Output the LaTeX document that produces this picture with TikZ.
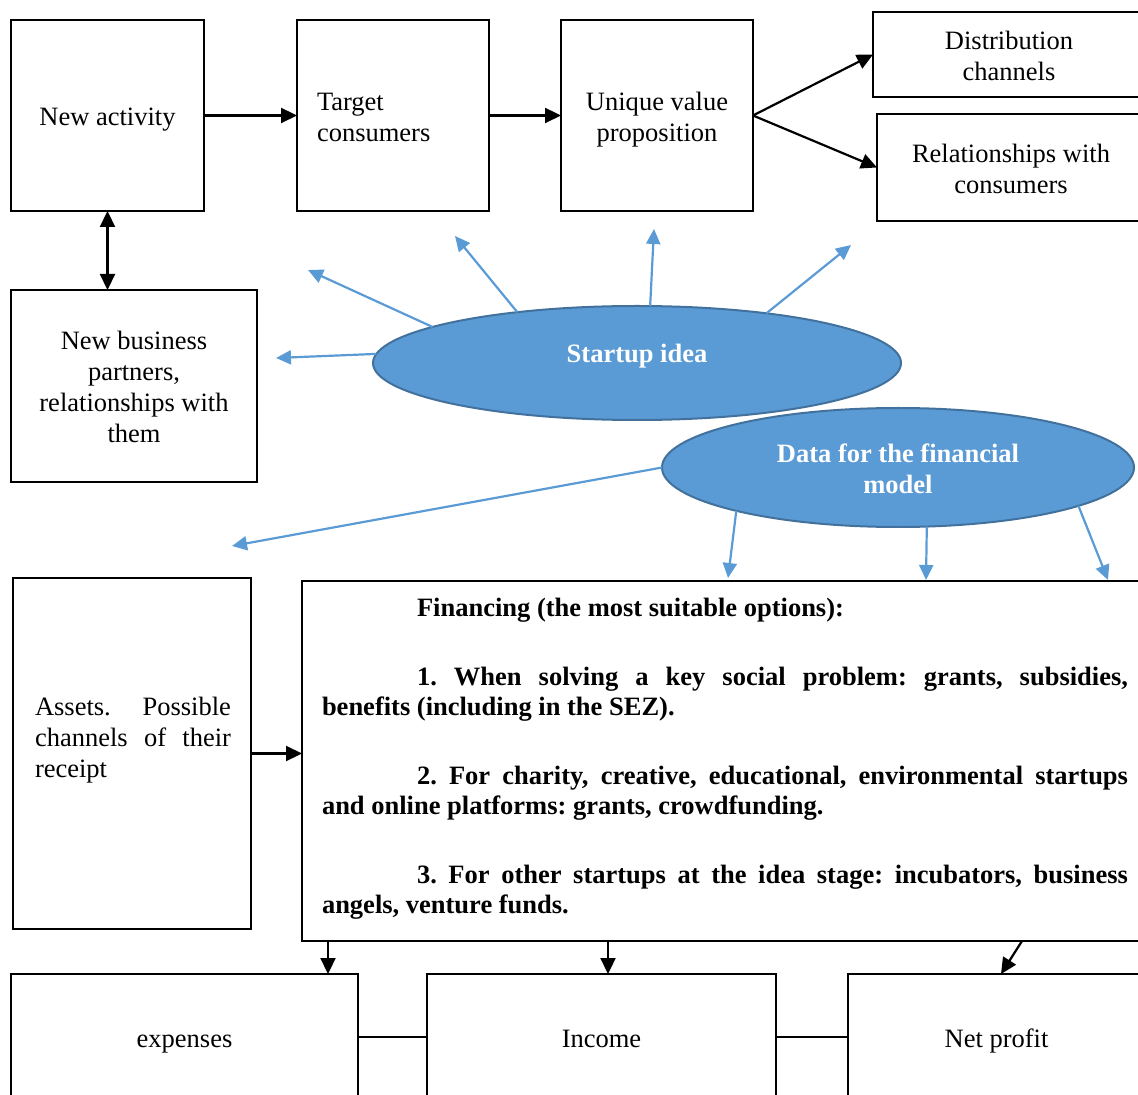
\documentclass[tikz,border=0pt]{standalone}
\usepackage{fontspec}
\setmainfont{Liberation Serif}
\usetikzlibrary{arrows.meta,shapes.geometric,calc}
\definecolor{sblue}{HTML}{5B9BD5}
\definecolor{sbord}{HTML}{41719C}
\newcommand\dfont{\fontsize{13.25pt}{15.5pt}\selectfont}
\newcommand\ffont{\fontsize{13.25pt}{15pt}\selectfont}
\newcommand\st{\rule[-4pt]{0pt}{15.5pt}}
\newcommand\tst{\rule[-4pt]{0pt}{18.5pt}}
\begin{document}
\begin{tikzpicture}[x=0.5pt,y=-0.5pt,
 box/.style={draw, line width=0.65pt, inner sep=0pt, outer sep=0pt, anchor=north west, font=\dfont, align=center},
 txt/.style={inner sep=0pt, outer sep=0pt, font=\dfont},
 blk/.style={line width=1.1pt, -{Triangle[length=8pt,width=7.5pt]}},
 dbl/.style={line width=1.1pt, {Triangle[length=8pt,width=7.5pt]}-{Triangle[length=8pt,width=7.5pt]}},
 blu/.style={color=sblue, line width=1.1pt, -{Triangle[length=7.5pt,width=7pt]}},
 oval/.style={ellipse, draw=sbord, line width=1pt, fill=sblue, inner sep=0pt, outer sep=0pt, text=white, font=\dfont\bfseries, align=center}]

\useasboundingbox (0,0) rectangle (1138,1095);
\clip (0,0) rectangle (1138,1095);

% top row
\node[box, minimum width=96.5pt, minimum height=95.5pt] (na) at (11,20) {\tst New activity};
\node[box, minimum width=96pt, minimum height=95.5pt, text width=76pt, align=left] (tc) at (297,20) {\tst Target\\consumers\st};
\node[box, minimum width=96pt, minimum height=95.5pt] (uvp) at (561,20) {\tst Unique value\\proposition\st};
\node[box, minimum width=136pt, minimum height=42.5pt] (dc) at (873,12) {\tst Distribution\\channels\st};
\node[box, minimum width=134pt, minimum height=53.5pt] (rel) at (877,114) {\tst Relationships with\\consumers\st};
\node[box, minimum width=123pt, minimum height=96pt] (nbp) at (11,290) {\tst New business\\partners,\\relationships with\\them\st};

% ellipses
\node[oval, minimum width=264pt, minimum height=57pt] (si) at (637,363) {};
\node[txt, text=white, font=\dfont\bfseries] (sit) at (637,356) {Startup idea};
\node[oval, minimum width=236pt, minimum height=59.5pt] (dfm) at (898,467.5) {\tst Data for the financial\\model\st};

% middle boxes
\node[box, minimum width=119pt, minimum height=175.5pt] (as) at (13,578) {};
\node[txt, anchor=north west, text width=98pt, align=justify] (ast) at (35,697) {Assets.\ \ Possible\linebreak channels of their\linebreak receipt};
\node[box, minimum width=421.5pt, minimum height=180pt] (fin) at (302,581) {};
\node[txt, anchor=north west, text width=403pt, align=justify, font=\ffont\bfseries] (fint) at (322,598) {\parskip=0pt\frenchspacing
\noindent\hspace*{47.5pt}Financing (the most suitable options):\par\vspace{19.5pt}
\noindent\hspace*{47.5pt}1. When solving a key social problem: grants, subsidies,\linebreak benefits (including in the SEZ).\par\vspace{19.5pt}
\noindent\hspace*{47.5pt}2. For charity, creative, educational, environmental startups\linebreak and online platforms: grants, crowdfunding.\par\vspace{19.5pt}
\noindent\hspace*{47.5pt}3. For other startups at the idea stage: incubators, business\linebreak angels, venture funds.\par};

% bottom row
\node[box, minimum width=173.5pt, minimum height=63pt] (ex) at (11,974) {\tst expenses};
\node[box, minimum width=174.5pt, minimum height=63pt] (inc) at (427,974) {\tst Income};
\node[box, minimum width=148.5pt, minimum height=63pt] (np) at (848,974) {\tst Net profit};

% black connectors
\draw[blk] (na.east) -- (tc.west);
\draw[blk] (tc.east) -- (uvp.west);
\draw[blk] (uvp.east) -- (dc.west);
\draw[blk] (uvp.east) -- (rel.west);
\draw[dbl] (na.south) -- (na.south |- nbp.north);
\draw[blk] (as.east) -- (as.east -| fin.west);
\draw[blk] (fin.south -| 328,0) -- (ex.north -| 328,0);
\draw[blk] (fin.south -| 608,0) -- (inc.north -| 608,0);
\draw[blk] (fin.south -| 1022,0) -- (np.north -| 1001,0);
\draw[line width=0.65pt] (ex.east) -- (inc.west);
\draw[line width=0.65pt] (inc.east) -- (np.west);

% blue connectors
\coordinate (a1) at (308,270);
\coordinate (a2) at (455,236);
\coordinate (a3) at (654,229);
\coordinate (a4) at (851,245);
\coordinate (a5) at (276,358);
\coordinate (b1) at (232,546);
\coordinate (b2) at (728,578);
\coordinate (b3) at (926,580);
\coordinate (b4) at (1108,580);
\draw[blu] (si.170) -- (a1);
\draw[blu] (si.157) -- (a2);
\draw[blu] (si.77) -- (a3);
\draw[blu] (si.21) -- (a4);
\draw[blu] (si.178) -- (a5);
\draw[blu] (dfm.180) -- (b1);
\draw[blu] (dfm.195) -- (b2);
\draw[blu] (dfm.296) -- (b3);
\draw[blu] (dfm.348) -- (b4);
\end{tikzpicture}
\end{document}
